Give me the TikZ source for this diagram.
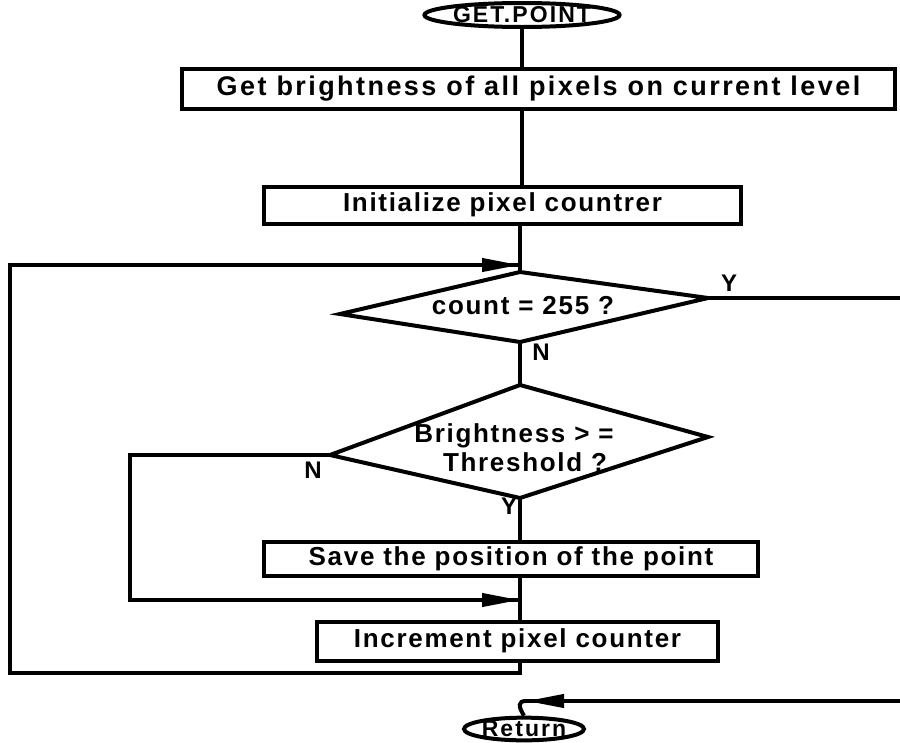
\documentclass[tikz,border=0pt]{standalone}
\usepackage{fontspec}
\setmainfont{Liberation Sans}[LetterSpace=6.5]
\usetikzlibrary{arrows.meta,shapes.geometric}

\begin{document}
\begin{tikzpicture}[x=1pt,y=-1pt,
  line/.style={line width=4pt},
  flow/.style={line width=4pt,-{Triangle[length=38pt,width=13pt]}},
  txt/.style={font=\fontsize{26}{29}\selectfont\bfseries},
  proc/.style={draw,line width=4pt,txt,inner sep=0pt},
  term/.style={draw,ellipse,line width=4pt,inner sep=0pt,
    font=\fontsize{23}{25}\selectfont\bfseries\addfontfeatures{LetterSpace=9}},
  lbl/.style={font=\fontsize{24}{26}\selectfont\bfseries}]
\useasboundingbox (0,0) rectangle (900,742);
\clip (0,0) rectangle (900,742);

% terminals
\node[term,minimum width=176pt,minimum height=24pt] (start) at (522,15) {GET.POINT};
\node[term,minimum width=120pt,minimum height=22pt] (ret) at (524,729) {Return};

% process boxes
\node[proc,minimum width=713pt,minimum height=40pt,
      font=\fontsize{27}{29}\selectfont\bfseries\addfontfeatures{LetterSpace=9}] (b1) at (538.5,88.5)
  {Get brightness of all pixels on current level};
\node[proc,minimum width=477pt,minimum height=37pt] (b2) at (502.5,205)
  {Initialize pixel countrer};
\node[proc,minimum width=494pt,minimum height=34pt] (b3) at (511,558.5)
  {Save the position of the point};
\node[proc,minimum width=401pt,minimum height=39pt] (b4) at (517.5,641)
  {Increment pixel counter};

% decision 1
\coordinate (d1t) at (520,272);
\coordinate (d1r) at (708,298);
\coordinate (d1b) at (520,342);
\coordinate (d1l) at (340,314);
\draw[line] (d1t) -- (d1r) -- (d1b) -- (d1l) -- cycle;
\node[txt] (d1) at (523,306) {count = 255 ?};

% decision 2
\coordinate (d2t) at (520,385);
\coordinate (d2r) at (708,437);
\coordinate (d2b) at (520,498);
\coordinate (d2l) at (330,455);
\draw[line] (d2t) -- (d2r) -- (d2b) -- (d2l) -- cycle;
\node[txt,align=center] (d2) at (514,448) {Brightness > =\\\hspace*{22pt}Threshold ?};

% main spine
\draw[line] (start.south) -- (start.south |- b1.north);
\draw[line] (start.south |- b1.south) -- (start.south |- b2.north);
\draw[line] (d1t |- b2.south) -- (d1t);
\draw[line] (d1b) -- (d2t);
\draw[line] (d2b) -- (d2b |- b3.north);
\draw[line] (d2b |- b3.south) -- (d2b |- b4.north);

% outer loop back to the counter test
\coordinate (lp1) at (520,673);
\coordinate (lp2) at (10,673);
\coordinate (lp3) at (10,265);
\coordinate (lp4) at (520,265);
\draw[line] (d2b |- b4.south) -- (lp1) -- (lp2) -- (lp3) -- (lp4);
\draw[flow] (lp3) -- (lp4);

% threshold not reached
\coordinate (nb1) at (130,455);
\coordinate (nb2) at (130,600);
\coordinate (nb3) at (520,600);
\draw[line] (d2l) -- (nb1) -- (nb2) -- (nb3);
\draw[flow] (nb2) -- (nb3);

% counter finished: out to the return
\coordinate (ex1) at (910,298);
\coordinate (ex2) at (910,701);
\coordinate (ex3) at (526,701);
\draw[line] (d1r) -- (ex1) -- (ex2) -- (ex3);
\draw[flow] (ex2) -- (ex3);
\draw[line] (ex3) .. controls (518,701) and (518,706) .. (ret.north);

% branch labels
\node[lbl] (y1) at (729,283) {Y};
\node[lbl] (n1) at (541,352) {N};
\node[lbl] (n2) at (313,470) {N};
\node[lbl] (y2) at (509,506) {Y};
\end{tikzpicture}
\end{document}
